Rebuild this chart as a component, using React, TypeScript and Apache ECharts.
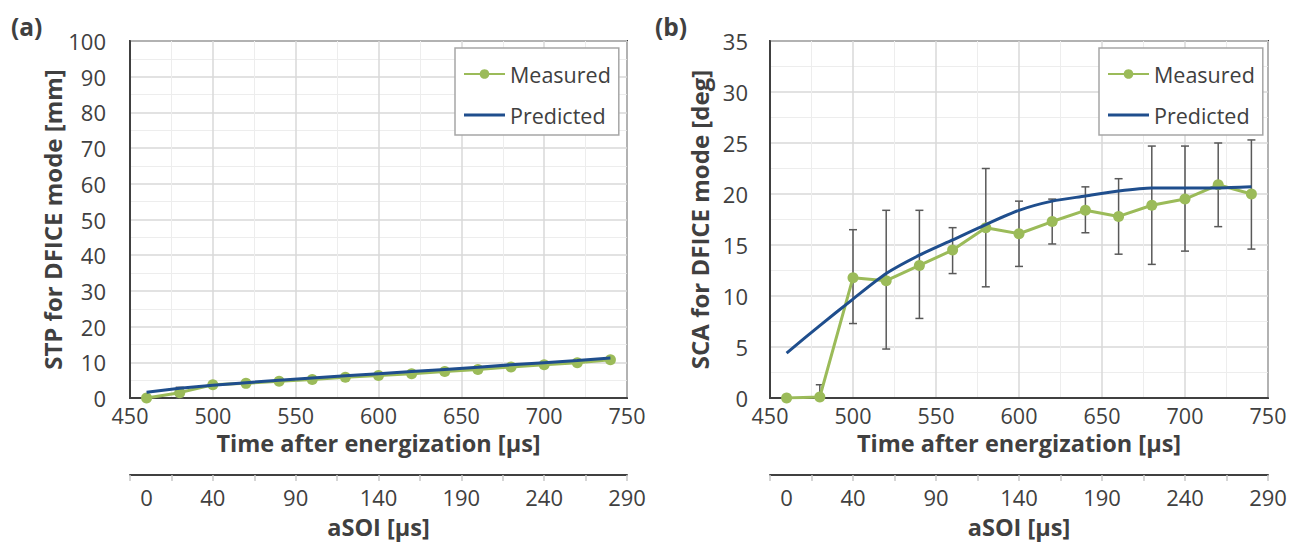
import React, { useEffect, useRef } from 'react';
import * as echarts from 'echarts';

// ---- data ----
const timeUs = [460, 480, 500, 520, 540, 560, 580, 600, 620, 640, 660, 680, 700, 720, 740];
const stpMeasured = [0, 1.5, 3.7, 4.1, 4.7, 5.2, 5.8, 6.3, 6.8, 7.4, 8.0, 8.7, 9.3, 9.9, 10.7];
const stpPredicted = [1.6, 2.7, 3.6, 4.3, 5.0, 5.6, 6.2, 6.8, 7.4, 8.0, 8.6, 9.3, 9.9, 10.5, 11.2];
const stpErrLow = [0, 0, 3.3, 3.7, 4.3, 4.8, 5.4, 5.9, 6.4, 7.0, 7.6, 8.3, 8.9, 9.5, 10.3];
const stpErrHigh = [0, 3.0, 4.1, 4.5, 5.1, 5.6, 6.2, 6.7, 7.2, 7.8, 8.4, 9.1, 9.7, 10.3, 11.1];
const scaMeasured = [0, 0.1, 11.8, 11.5, 13.0, 14.5, 16.7, 16.1, 17.3, 18.4, 17.8, 18.9, 19.5, 20.9, 20.0];
const scaPredicted = [4.4, 7.1, 9.7, 12.2, 14.0, 15.5, 17.0, 18.4, 19.3, 19.8, 20.3, 20.6, 20.6, 20.6, 20.7];
const scaErrLow = [0, 0, 7.3, 4.8, 7.8, 12.2, 10.9, 12.9, 15.1, 16.2, 14.1, 13.1, 14.4, 16.8, 14.6];
const scaErrHigh = [0, 1.3, 16.5, 18.4, 18.4, 16.7, 22.5, 19.3, 19.5, 20.7, 21.5, 24.7, 24.7, 25.0, 25.3];
const asoiLabels = [0, 40, 90, 140, 190, 240, 290];
const asoiTicks = [-10, 15, 40, 65, 90, 115, 140, 165, 190, 215, 240, 265, 290];

const GREEN = '#9BBB59';
const BLUE = '#1F4E8D';
const TXT = '#404040';
const FONT = 'Open Sans';

function pairs(ys: number[]) {
  return timeUs.map((x, i) => [x, ys[i]]);
}
function errData(lo: number[], hi: number[]) {
  return timeUs.map((x, i) => [x, lo[i], hi[i]]);
}

const errRender = (params: any, api: any) => {
  const x = api.value(0);
  const lo = api.value(1);
  const hi = api.value(2);
  if (!(hi - lo > 0)) return { type: 'group', children: [] };
  const a = api.coord([x, lo]);
  const b = api.coord([x, hi]);
  const c = 4;
  const st = { stroke: '#595959', lineWidth: 1.5 };
  return {
    type: 'group',
    children: [
      { type: 'line', shape: { x1: a[0], y1: a[1], x2: b[0], y2: b[1] }, style: st },
      { type: 'line', shape: { x1: a[0] - c, y1: a[1], x2: a[0] + c, y2: a[1] }, style: st },
      { type: 'line', shape: { x1: b[0] - c, y1: b[1], x2: b[0] + c, y2: b[1] }, style: st },
    ],
  };
};

const titleStyle = (size: number) => ({ fontSize: size, fontWeight: 'bold', color: TXT, fontFamily: FONT });

function panelAxes(gi: number, yMax: number, yInt: number, yName: string, yLabelMargin: number, yNameGap: number) {
  const xPrimary = {
    gridIndex: gi,
    type: 'value',
    min: 450,
    max: 750,
    interval: 50,
    axisLine: { show: true, onZero: false, lineStyle: { color: TXT, width: 2 } },
    axisTick: { show: false },
    axisLabel: { fontSize: 21.5, color: TXT, margin: 6, fontFamily: FONT },
    splitLine: { show: true, lineStyle: { color: '#d9d9d9', width: 1.5 } },
    minorTick: { show: false, splitNumber: 2 },
    minorSplitLine: { show: true, lineStyle: { color: '#ededed', width: 1 } },
    name: 'Time after energization [µs]',
    nameLocation: 'middle',
    nameGap: 31,
    nameTextStyle: titleStyle(23.5),
  };
  const xSecondary = {
    gridIndex: gi,
    type: 'value',
    position: 'bottom',
    offset: 77,
    min: -10,
    max: 290,
    axisLine: { show: true, onZero: false, lineStyle: { color: TXT, width: 2 } },
    axisTick: { show: true, customValues: asoiTicks, length: 6, lineStyle: { color: '#c8c8c8', width: 1.5 } },
    axisLabel: { customValues: asoiLabels, fontSize: 22, color: TXT, margin: 11, fontFamily: FONT },
    splitLine: { show: false },
    name: 'aSOI [µs]',
    nameLocation: 'middle',
    nameGap: 40,
    nameTextStyle: titleStyle(23.5),
  };
  const y = {
    gridIndex: gi,
    type: 'value',
    min: 0,
    max: yMax,
    interval: yInt,
    axisLine: { show: true, onZero: false, lineStyle: { color: TXT, width: 2 } },
    axisTick: { show: false },
    axisLabel: { fontSize: 22, color: TXT, margin: yLabelMargin, fontFamily: FONT },
    splitLine: { show: true, lineStyle: { color: '#d9d9d9', width: 1.5 } },
    minorTick: { show: false, splitNumber: 2 },
    minorSplitLine: { show: true, lineStyle: { color: '#ededed', width: 1 } },
    name: yName,
    nameLocation: 'middle',
    nameGap: yNameGap,
    nameTextStyle: titleStyle(24),
  };
  return { xPrimary, xSecondary, y };
}

export default function App() {
  const ref = useRef<HTMLDivElement>(null);
  useEffect(() => {
    if (!ref.current) return;
    const chart = echarts.init(ref.current, undefined, { renderer: 'svg' });
    const a = panelAxes(0, 100, 10, 'STP for DFICE mode [mm]', 24, 57);
    const b = panelAxes(1, 35, 5, 'SCA for DFICE mode [deg]', 22, 59);
    const legendBase = {
      orient: 'vertical',
      top: 48,
      backgroundColor: '#fff',
      borderColor: '#a6a6a6',
      borderWidth: 1.5,
      borderRadius: 0,
      padding: [15, 8, 9, 8],
      itemGap: 19,
      itemWidth: 41,
      itemHeight: 12,
      textStyle: { fontSize: 21.5, color: TXT, fontFamily: FONT, lineHeight: 22 },
      data: [
        { name: 'Measured' },
        { name: 'Predicted', icon: 'path://M0,0 L41,0 L41,3 L0,3 Z' },
      ],
      selectedMode: false,
    };
    const measured = (gi: number, d: number[]) => ({
      name: 'Measured',
      type: 'line',
      xAxisIndex: gi * 2,
      yAxisIndex: gi,
      data: pairs(d),
      symbol: 'circle',
      symbolSize: 11,
      itemStyle: { color: GREEN },
      lineStyle: { color: GREEN, width: 3 },
      z: 3,
    });
    const predicted = (gi: number, d: number[], smooth: number) => ({
      name: 'Predicted',
      type: 'line',
      xAxisIndex: gi * 2,
      yAxisIndex: gi,
      data: pairs(d),
      symbol: 'none',
      smooth,
      itemStyle: { color: BLUE },
      lineStyle: { color: BLUE, width: 3 },
      z: 4,
    });
    const err = (gi: number, lo: number[], hi: number[]) => ({
      name: 'err' + gi,
      type: 'custom',
      xAxisIndex: gi * 2,
      yAxisIndex: gi,
      data: errData(lo, hi),
      encode: { x: 0, y: [1, 2] },
      renderItem: errRender,
      z: 2,
    });
    chart.setOption({
      animation: false,
      textStyle: { fontFamily: FONT },
      title: [
        { text: '(a)', left: 6, top: 9, textStyle: titleStyle(24.5) },
        { text: '(b)', left: 650, top: 9, textStyle: titleStyle(24.5) },
      ],
      grid: [
        { left: 130, top: 41, width: 497, height: 357, show: true, borderColor: TXT, borderWidth: 2, backgroundColor: '#fff' },
        { left: 770, top: 41, width: 498, height: 357, show: true, borderColor: TXT, borderWidth: 2, backgroundColor: '#fff' },
      ],
      legend: [
        { ...legendBase, left: 455 },
        { ...legendBase, left: 1099 },
      ],
      xAxis: [a.xPrimary, a.xSecondary, b.xPrimary, b.xSecondary],
      yAxis: [a.y, b.y],
      series: [
        err(0, stpErrLow, stpErrHigh),
        measured(0, stpMeasured),
        predicted(0, stpPredicted, 0),
        err(1, scaErrLow, scaErrHigh),
        measured(1, scaMeasured),
        predicted(1, scaPredicted, 0.25),
      ],
    });
    return () => chart.dispose();
  }, []);
  return (
    <div
      ref={ref}
      style={{ position: 'fixed', left: 0, top: 0, width: 1302, height: 545, background: '#fff' }}
    />
  );
}
